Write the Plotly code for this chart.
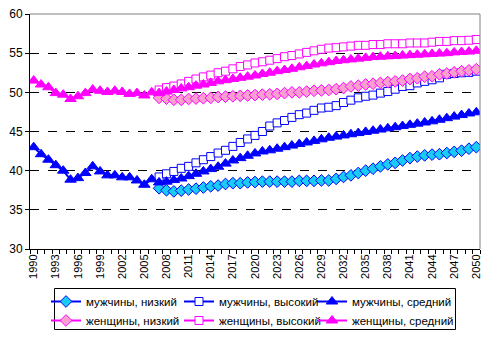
import plotly.graph_objects as go

years_hist = list(range(1990, 2007))
years_fc = list(range(2007, 2051))

men_mid_hist = [43.0, 42.1, 41.4, 40.7, 40.0, 38.85, 39.05, 39.7, 40.55, 39.9, 39.4, 39.4, 39.15, 39.15, 38.75, 38.2, 38.9]
women_mid_hist = [51.5, 51.0, 50.65, 49.9, 49.7, 49.15, 49.5, 49.9, 50.35, 50.2, 50.05, 50.2, 50.05, 49.8, 49.9, 49.6, 50.0]

men_low = [37.75, 37.5, 37.35, 37.45, 37.6, 37.7, 37.85, 38.0, 38.1, 38.3, 38.4, 38.4, 38.5, 38.55,
           38.6, 38.6, 38.6, 38.6, 38.6, 38.7, 38.7, 38.7, 38.75, 38.75, 38.95, 39.2, 39.4, 39.7, 40.0,
           40.25, 40.55, 40.8, 41.0, 41.3, 41.6, 41.8, 41.95, 42.05, 42.1, 42.25, 42.4, 42.55, 42.8, 43.0]
men_high = [39.2, 39.6, 39.9, 40.3, 40.55, 41.0, 41.4, 41.8, 42.25, 42.6, 43.1, 43.6, 44.05, 44.5,
            45.0, 45.7, 46.1, 46.4, 46.8, 47.15, 47.35, 47.7, 48.0, 48.1, 48.3, 48.7, 49.0, 49.3, 49.5,
            49.65, 49.9, 50.1, 50.4, 50.75, 50.85, 51.2, 51.4, 51.6, 51.85, 52.3, 52.4, 52.5, 52.55, 52.7]
men_mid_fc = [38.5, 38.6, 38.8, 39.0, 39.3, 39.6, 39.9, 40.2, 40.5, 40.9, 41.3, 41.6, 41.9, 42.2,
              42.45, 42.6, 42.8, 43.0, 43.2, 43.4, 43.6, 43.8, 44.0, 44.2, 44.35, 44.5, 44.65, 44.8, 44.95,
              45.1, 45.25, 45.4, 45.55, 45.7, 45.85, 46.0, 46.15, 46.3, 46.5, 46.7, 46.9, 47.1, 47.3, 47.45]
women_low = [49.3, 49.2, 49.05, 49.05, 49.15, 49.2, 49.25, 49.3, 49.4, 49.45, 49.5, 49.55, 49.6, 49.65,
             49.7, 49.75, 49.8, 49.9, 50.0, 50.0, 50.1, 50.2, 50.25, 50.3, 50.4, 50.55, 50.75, 50.85, 51.0,
             51.1, 51.2, 51.3, 51.4, 51.5, 51.7, 51.8, 52.0, 52.05, 52.3, 52.4, 52.55, 52.7, 52.8, 52.95]
women_high = [50.3, 50.6, 50.8, 51.07, 51.4, 51.7, 51.97, 52.2, 52.5, 52.7, 53.0, 53.3, 53.5, 53.75,
              53.9, 54.1, 54.3, 54.55, 54.7, 54.9, 55.1, 55.3, 55.5, 55.65, 55.7, 55.8, 55.9, 56.0, 56.0,
              56.1, 56.1, 56.2, 56.2, 56.2, 56.3, 56.3, 56.3, 56.4, 56.5, 56.5, 56.6, 56.6, 56.65, 56.75]
women_mid_fc = [49.9, 50.1, 50.3, 50.5, 50.65, 50.85, 51.0, 51.2, 51.4, 51.55, 51.7, 51.85, 52.0, 52.15,
                52.35, 52.5, 52.7, 52.85, 53.0, 53.2, 53.35, 53.55, 53.7, 53.85, 54.0, 54.1, 54.2, 54.3, 54.4,
                54.5, 54.55, 54.6, 54.65, 54.7, 54.75, 54.8, 54.85, 54.9, 54.95, 55.0, 55.1, 55.15, 55.2, 55.3]

x_tick_labels = [str(y) for y in range(1990, 2051, 3)]

BLUE = "#0000FF"
MAG = "#FF00FF"

fig = go.Figure()

def add(name, x, y, color, symbol, fill, size, legend):
    fig.add_trace(go.Scatter(
        x=x, y=y, name=name, mode="lines+markers", legend=legend,
        line=dict(color=color, width=2),
        marker=dict(symbol=symbol, size=size, color=fill, line=dict(color=color, width=1)),
    ))

add("мужчины, низкий", years_fc, men_low, BLUE, "diamond", "#19CCF5", 9, "legend")
add("мужчины, высокий", years_fc, men_high, BLUE, "square", "white", 8, "legend2")
add("мужчины, средний", years_hist + years_fc, men_mid_hist + men_mid_fc, BLUE, "triangle-up", BLUE, 10, "legend3")
add("женщины, низкий", years_fc, women_low, MAG, "diamond", "#F9A0CF", 9, "legend")
add("женщины, высокий", years_fc, women_high, MAG, "square", "white", 8, "legend2")
add("женщины, средний", years_hist + years_fc, women_mid_hist + women_mid_fc, MAG, "triangle-up", MAG, 10, "legend3")

# plot area in pixels: left 30, right 480, top 14, bottom 249
PW, PH = 450.0, 235.0
def px_x(p):
    return (p - 30) / PW
def px_y(p):
    return (249 - p) / PH

def leg(xpix):
    return dict(
        orientation="v", x=px_x(xpix), xanchor="left", y=px_y(287), yanchor="top",
        borderwidth=0, bgcolor="rgba(0,0,0,0)",
        font=dict(size=11.5), tracegroupgap=0, itemwidth=30,
    )

fig.update_layout(
    width=493, height=340,
    margin=dict(l=30, r=13, t=14, b=91, autoexpand=False),
    paper_bgcolor="white", plot_bgcolor="white",
    font=dict(family="Liberation Sans, Arial", size=11, color="black"),
    showlegend=True,
    legend=leg(46), legend2=leg(179), legend3=leg(312),
    shapes=[
        dict(type="line", xref="paper", yref="paper", x0=0, x1=1, y0=1, y1=1,
             line=dict(color="#808080", width=1), layer="above"),
        dict(type="line", xref="paper", yref="paper", x0=1, x1=1, y0=0, y1=1,
             line=dict(color="#808080", width=1), layer="above"),
        dict(type="rect", xref="paper", yref="paper",
             x0=px_x(54.5), x1=px_x(455.5), y0=px_y(288.5), y1=px_y(329.5),
             line=dict(color="black", width=1), fillcolor="rgba(0,0,0,0)", layer="below"),
    ],
)

fig.update_xaxes(
    range=[1989.5, 2050.5],
    tickmode="array", tickvals=list(range(1990, 2051, 3)), ticktext=x_tick_labels,
    tickangle=-90, ticks="outside", ticklen=0,
    showline=True, linecolor="black", linewidth=1,
    showgrid=False, zeroline=False,
    minor=dict(tickmode="array", tickvals=[1989.5 + i for i in range(62)],
               ticks="outside", ticklen=4, tickcolor="black", showgrid=False),
    tickfont=dict(size=11),
)
fig.update_yaxes(
    range=[30, 60], dtick=5, tick0=30,
    ticks="outside", ticklen=4, tickcolor="black",
    showline=True, linecolor="black", linewidth=1,
    showgrid=True, gridcolor="black", griddash="dash", gridwidth=1,
    zeroline=False, tickfont=dict(size=12),
)

fig.write_html("out.html")
